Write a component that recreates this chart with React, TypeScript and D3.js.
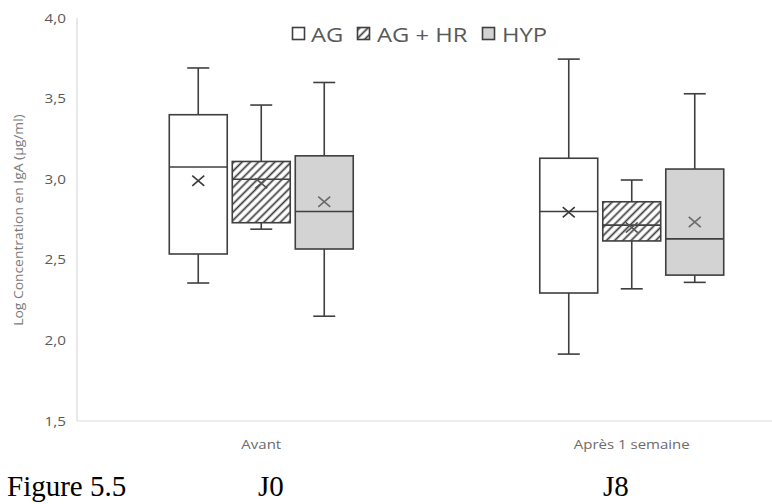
import React from "react";
import * as d3 from "d3";

// categories and series
const groups = ["Avant", "Après 1 semaine"];
const series = ["AG", "AG + HR", "HYP"];

// box plot values, one array per group, in series order
const whiskerHigh = [[3.69, 3.46, 3.6], [3.745, 2.995, 3.53]];
const q3 = [[3.4, 3.11, 3.145], [3.13, 2.86, 3.063]];
const median = [[3.076, 3.0, 2.8], [2.8, 2.715, 2.63]];
const q1 = [[2.536, 2.73, 2.567], [2.294, 2.617, 2.405]];
const whiskerLow = [[2.356, 2.69, 2.15], [1.915, 2.32, 2.36]];
const mean = [[2.99, 2.975, 2.86], [2.795, 2.7, 2.735]];

const yTicks = [1.5, 2.0, 2.5, 3.0, 3.5, 4.0];
const yTitle = "Log Concentration en IgA (µg/ml)";
const figureLabels = ["Figure 5.5", "J0", "J8"];

const W = 772, H = 504;
const SX = 1.22; // the chart text is stretched sideways in the picture
const FONT = "'Open Sans', sans-serif";
const STROKE = "#3f3f3f";

const fr = d3.formatLocale({ decimal: ",", thousands: " ", grouping: [3], currency: ["", "€"] });
const fmt = fr.format(".1f");

const fills = ["#ffffff", "url(#hatch)", "#d3d3d3"];
const meanColors = ["#3a3a3a", "#555555", "#6a6a6a"];

function Stretched(props: { x: number; y: number; anchor?: string; size: number; fill: string; children: any; rotate?: number }) {
	const { x, y, anchor, size, fill, children, rotate } = props;
	const t = rotate ? `translate(${x},${y}) rotate(${rotate}) scale(1.05,1)` : `translate(${x},${y}) scale(${SX},1)`;
	return (
		<text transform={t} textAnchor={anchor || "start"} fontSize={size} fill={fill} fontFamily={FONT}>
			{children}
		</text>
	);
}

export default function App() {

	const left = 77, top = 18, bottom = 421;

	const x = d3.scaleBand().domain(groups).range([76, 817]).padding(0);
	const xs = d3.scaleBand().domain(series).range([-94.5, 94.5]).paddingInner(0.08).paddingOuter(0.04);
	const y = d3.scaleLinear().domain([1.5, 4]).range([bottom, top]);

	const bw = xs.bandwidth();
	const capW = 22;
	const mk = 6;

	// legend layout
	const legend = [
		{ sq: 292, tx: 311 },
		{ sq: 357, tx: 377 },
		{ sq: 482, tx: 502 },
	];

	const serif = "'Liberation Serif', 'Times New Roman', serif";

	return (
		<svg width={W} height={H} style={{ position: "absolute", left: 0, top: 0, background: "#fff" }}>
			<defs>
				<pattern id="hatch" patternUnits="userSpaceOnUse" width="5.8" height="5.8" patternTransform="rotate(45)">
					<rect width="5.8" height="5.8" fill="#fff" />
					<line x1="1.5" y1="0" x2="1.5" y2="5.8" stroke="#3a3a3a" strokeWidth="1.7" />
				</pattern>
			</defs>

			{/* axes */}
			<line x1={left} x2={left} y1={top} y2={bottom} stroke="#d9d9d9" strokeWidth={1.2} />
			<line x1={left} x2={W} y1={bottom} y2={bottom} stroke="#d9d9d9" strokeWidth={1.2} />

			{yTicks.map(t => (
				<Stretched key={t} x={66} y={y(t) + 4.5} anchor="end" size={12.5} fill="#595959">{fmt(t)}</Stretched>
			))}

			<Stretched x={23} y={220} anchor="middle" size={13.2} fill="#7a7a7a" rotate={-90}>{yTitle}</Stretched>

			{groups.map(g => (
				<Stretched key={g} x={(x(g) as number) + x.bandwidth() / 2} y={449} anchor="middle" size={12.3} fill="#6b6b6b">{g}</Stretched>
			))}

			{/* boxes */}
			{groups.map((g, gi) => series.map((s, si) => {
				const cx = (x(g) as number) + x.bandwidth() / 2 + (xs(s) as number) + bw / 2;
				const x0 = cx - bw / 2;
				const my = y(mean[gi][si]);
				return (
					<g key={g + s}>
						<line x1={cx} x2={cx} y1={y(whiskerHigh[gi][si])} y2={y(q3[gi][si])} stroke={STROKE} strokeWidth={1.6} />
						<line x1={cx} x2={cx} y1={y(q1[gi][si])} y2={y(whiskerLow[gi][si])} stroke={STROKE} strokeWidth={1.6} />
						<line x1={cx - capW / 2} x2={cx + capW / 2} y1={y(whiskerHigh[gi][si])} y2={y(whiskerHigh[gi][si])} stroke={STROKE} strokeWidth={1.6} />
						<line x1={cx - capW / 2} x2={cx + capW / 2} y1={y(whiskerLow[gi][si])} y2={y(whiskerLow[gi][si])} stroke={STROKE} strokeWidth={1.6} />
						<rect x={x0} y={y(q3[gi][si])} width={bw} height={y(q1[gi][si]) - y(q3[gi][si])} fill={fills[si]} stroke={STROKE} strokeWidth={1.6} />
						<line x1={x0} x2={x0 + bw} y1={y(median[gi][si])} y2={y(median[gi][si])} stroke={STROKE} strokeWidth={1.6} />
						<path d={`M${cx - mk},${my - mk * 0.85}L${cx + mk},${my + mk * 0.85}M${cx - mk},${my + mk * 0.85}L${cx + mk},${my - mk * 0.85}`} stroke={meanColors[si]} strokeWidth={1.6} fill="none" />
					</g>
				);
			}))}

			{/* legend */}
			{series.map((s, si) => (
				<g key={s}>
					<rect x={legend[si].sq + 0.5} y={27.5} width={12} height={12} fill={fills[si]} stroke={STROKE} strokeWidth={1.6} />
					<Stretched x={legend[si].tx} y={42} size={19.5} fill="#595959">{s}</Stretched>
				</g>
			))}

			{/* figure caption */}
			<text x={7} y={496} fontFamily={serif} fontSize={29} fill="#000">{figureLabels[0]}</text>
			<text x={258} y={496} fontFamily={serif} fontSize={29} fill="#000">{figureLabels[1]}</text>
			<text x={603} y={496} fontFamily={serif} fontSize={29} fill="#000">{figureLabels[2]}</text>
		</svg>
	);
}
